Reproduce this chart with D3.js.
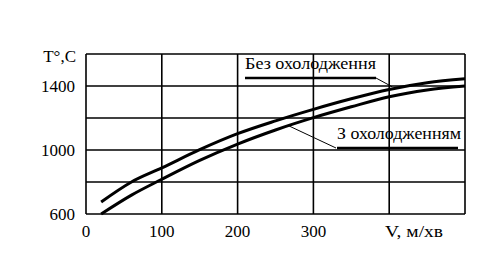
<!DOCTYPE html>
<html>
<head>
<meta charset="utf-8">
<script src="https://cdn.jsdelivr.net/npm/d3@7"></script>
<style>
  body { margin: 0; background: #fff; }
</style>
</head>
<body>
<div id="chart"></div>
<script>
const speed = [20, 60, 100, 150, 200, 250, 300, 350, 400, 450, 500];
const tempNoCool = [675, 800, 888, 1002, 1102, 1182, 1254, 1320, 1378, 1420, 1445];
const tempCool = [600, 718, 817, 935, 1037, 1125, 1202, 1270, 1333, 1375, 1400];
const xGrid = [0, 100, 200, 300, 400, 500];
const yGrid = [600, 800, 1000, 1200, 1400, 1600];
const xTickLabels = [0, 100, 200, 300];
const yTickLabels = [600, 1000, 1400];

const width = 492, height = 280;
const svg = d3.select('#chart').append('svg')
  .attr('width', width)
  .attr('height', height);

const x = d3.scaleLinear().domain([0, 500]).range([86, 465]);
const y = d3.scaleLinear().domain([600, 1600]).range([214, 54]);

// grid
svg.append('g').selectAll('line')
  .data(xGrid)
  .enter().append('line')
  .attr('x1', d => x(d)).attr('x2', d => x(d))
  .attr('y1', y(600)).attr('y2', y(1600))
  .attr('stroke', '#000').attr('stroke-width', 1.6);

svg.append('g').selectAll('line')
  .data(yGrid)
  .enter().append('line')
  .attr('x1', x(0)).attr('x2', x(500))
  .attr('y1', d => y(d)).attr('y2', d => y(d))
  .attr('stroke', '#000').attr('stroke-width', 1.6);

// tick labels
svg.append('g').selectAll('text')
  .data(yTickLabels)
  .enter().append('text')
  .attr('x', 75)
  .attr('y', d => y(d) + 6)
  .attr('text-anchor', 'end')
  .text(d => d);

svg.append('g').selectAll('text')
  .data(xTickLabels)
  .enter().append('text')
  .attr('x', d => x(d))
  .attr('y', 237)
  .attr('text-anchor', 'middle')
  .text(d => d);

svg.append('text').attr('x', 76).attr('y', 62).attr('text-anchor', 'end').text('T°,C');
svg.append('text').attr('x', 385).attr('y', 237)
  .attr('textLength', 58).attr('lengthAdjust', 'spacingAndGlyphs')
  .text('V, м/хв');

// curves
const line = d3.line()
  .x(d => x(d[0]))
  .y(d => y(d[1]))
  .curve(d3.curveMonotoneX);

svg.append('path')
  .datum(speed.map((v, i) => [v, tempNoCool[i]]))
  .attr('d', line)
  .attr('fill', 'none').attr('stroke', '#000').attr('stroke-width', 3);

svg.append('path')
  .datum(speed.map((v, i) => [v, tempCool[i]]))
  .attr('d', line)
  .attr('fill', 'none').attr('stroke', '#000').attr('stroke-width', 3);

// labels with underline and leader
function callout(label, tx, ty, len, lineEnd, target) {
  svg.append('text').attr('x', tx).attr('y', ty)
    .attr('textLength', len).attr('lengthAdjust', 'spacingAndGlyphs')
    .text(label);
  const uy = ty + 9;
  svg.append('line')
    .attr('x1', tx).attr('x2', lineEnd)
    .attr('y1', uy).attr('y2', uy)
    .attr('stroke', '#000').attr('stroke-width', 2.5);
  svg.append('line')
    .attr('x1', target[0]).attr('y1', target[1])
    .attr('x2', target[2]).attr('y2', uy)
    .attr('stroke', '#000').attr('stroke-width', 1);
}

callout('Без охолодження', 245, 69, 131, 376, [x(404), y(1395), 376]);
callout('З охолодженням', 337, 139, 124, 458, [x(268), y(1150), 336]);

svg.selectAll('text')
  .style('font-family', "'Liberation Serif'")
  .style('font-size', '17px')
  .style('fill', '#000');
</script>
</body>
</html>
